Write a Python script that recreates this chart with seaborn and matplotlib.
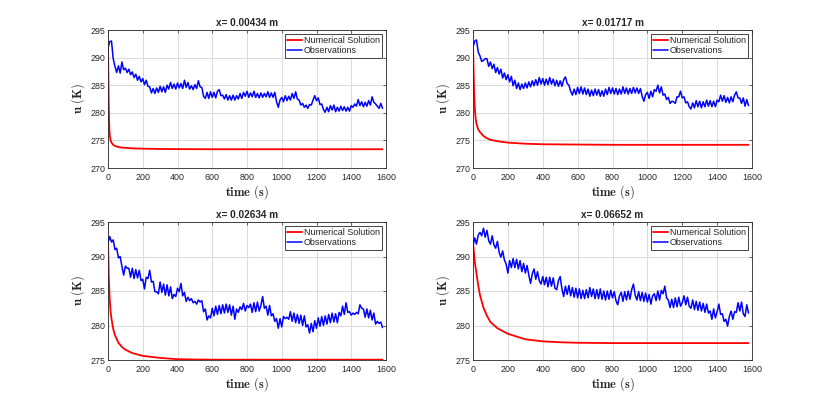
import numpy as np
import pandas as pd
import matplotlib
matplotlib.use("Agg")
import matplotlib.pyplot as plt
import seaborn as sns

# ---------------- data ----------------
titles = ["x= 0.00434 m", "x= 0.01717 m", "x= 0.02634 m", "x= 0.06652 m"]
ylims = [(270, 295), (270, 295), (275, 295), (275, 295)]

obs_time = list(range(0, 1590, 10))

obs_tl = [291.8, 292.9, 293.0, 289.8, 288.4, 287.3, 288.5, 287.2, 289.2, 287.8,
          288.1, 287.3, 287.9, 286.9, 287.4, 286.4, 287.0, 285.9, 286.6, 285.6,
          286.2, 285.1, 285.9, 284.8, 284.7, 283.6, 284.4, 283.5, 284.5, 283.7,
          284.8, 283.8, 284.7, 283.7, 285.0, 284.3, 285.5, 284.4, 285.2, 284.3,
          285.4, 284.5, 285.3, 284.4, 285.9, 284.6, 285.5, 284.3, 284.9, 284.2,
          285.1, 284.4, 285.8, 284.7, 284.6, 283.0, 282.6, 283.7, 282.6, 283.8,
          282.8, 283.7, 282.7, 283.9, 284.2, 283.1, 283.2, 282.5, 283.3, 282.3,
          283.1, 282.3, 283.2, 282.3, 283.1, 282.5, 283.5, 282.6, 283.7, 283.0,
          283.9, 282.8, 283.6, 282.9, 283.9, 282.8, 283.5, 282.7, 283.6, 282.8,
          283.5, 282.9, 283.8, 282.8, 283.6, 282.8, 283.7, 282.0, 281.0, 282.3,
          282.8, 282.0, 283.1, 282.2, 283.0, 282.3, 283.5, 282.6, 283.8, 282.5,
          282.3, 281.4, 281.7, 281.0, 281.4, 280.8, 281.5, 281.4, 282.3, 283.1,
          282.2, 282.7, 281.5, 281.6, 280.6, 280.1, 281.0, 280.2, 281.3, 280.5,
          281.4, 280.2, 281.0, 280.3, 281.2, 280.4, 281.1, 280.3, 281.0, 280.3,
          281.3, 281.0, 281.6, 281.2, 282.4, 281.3, 282.0, 281.1, 281.9, 281.2,
          282.2, 281.4, 282.9, 281.9, 281.6, 281.2, 280.8, 281.7, 280.8]

obs_tr = [291.9, 293.0, 293.2, 291.0, 290.3, 289.3, 289.5, 289.8, 289.8, 288.4,
          289.2, 288.0, 288.8, 287.3, 288.2, 287.0, 287.9, 286.3, 287.2, 286.0,
          286.9, 285.6, 286.6, 284.9, 285.9, 284.4, 285.4, 284.2, 285.2, 284.4,
          285.4, 284.5, 285.6, 284.7, 285.8, 284.9, 286.0, 285.0, 286.4, 285.2,
          286.2, 285.0, 286.1, 285.1, 286.4, 285.2, 286.1, 284.9, 285.9, 284.8,
          285.8, 284.8, 286.0, 286.5, 285.3, 285.0, 283.9, 283.2, 284.3, 283.3,
          284.6, 283.5, 284.7, 283.4, 284.5, 283.3, 284.3, 283.0, 284.1, 283.1,
          284.3, 283.2, 284.2, 283.0, 284.0, 283.0, 284.3, 283.3, 284.6, 283.5,
          284.5, 283.4, 284.4, 283.3, 284.3, 283.4, 284.7, 283.5, 284.5, 283.4,
          284.4, 283.5, 284.6, 283.6, 284.5, 283.5, 284.4, 283.0, 282.1, 283.3,
          283.7, 282.6, 283.9, 282.9, 284.2, 283.9, 285.0, 283.6, 284.7, 283.2,
          283.4, 282.4, 282.8, 281.7, 282.1, 282.0, 281.7, 282.9, 282.9, 283.9,
          282.7, 282.9, 281.8, 282.0, 281.1, 280.7, 281.8, 280.9, 282.2, 281.1,
          282.1, 280.9, 282.0, 281.1, 282.3, 281.2, 282.2, 281.1, 282.1, 281.1,
          282.3, 282.0, 283.2, 282.1, 283.1, 281.9, 282.8, 281.8, 282.9, 282.0,
          283.2, 283.8, 282.7, 282.7, 281.7, 282.7, 281.2, 282.4, 281.3]

obs_bl = [292.0, 292.9, 292.1, 292.4, 291.0, 291.2, 289.8, 290.0, 288.6, 287.3,
          288.6, 288.3, 288.3, 287.0, 288.3, 286.8, 288.1, 286.9, 288.0, 286.5,
          286.7, 285.3, 287.0, 286.8, 288.0, 286.3, 286.4, 284.9, 284.9, 284.6,
          286.3, 284.8, 286.0, 284.4, 285.9, 284.3, 285.6, 283.9, 284.5, 284.2,
          285.4, 284.9, 286.1, 284.3, 284.8, 283.5, 284.1, 283.6, 283.9, 283.3,
          283.5, 283.1, 283.7, 283.4, 283.6, 282.0, 282.4, 280.8, 281.4, 281.1,
          282.5, 281.4, 282.8, 281.6, 282.9, 281.7, 283.0, 281.8, 283.1, 281.9,
          283.0, 281.5, 282.8, 280.9, 282.4, 281.9, 282.7, 282.3, 283.2, 282.1,
          282.9, 282.6, 283.1, 281.9, 283.3, 282.0, 283.4, 282.1, 282.9, 284.2,
          282.5, 282.8, 281.5, 282.9, 281.4, 281.7, 280.6, 281.0, 279.6, 281.0,
          279.8, 281.3, 281.0, 281.2, 280.9, 282.0, 280.6, 281.8, 280.4, 281.6,
          280.3, 281.5, 280.0, 281.4, 279.8, 280.1, 278.9, 280.3, 279.1, 280.7,
          279.6, 281.1, 279.9, 281.3, 280.0, 281.4, 280.2, 281.6, 280.4, 281.8,
          280.5, 281.7, 280.4, 281.9, 281.4, 282.8, 281.6, 283.3, 281.9, 282.0,
          281.5, 281.8, 281.6, 281.9, 281.7, 283.0, 282.5, 282.4, 281.2, 282.4,
          281.1, 282.2, 280.8, 281.8, 280.2, 280.6, 280.3, 280.5, 279.7]

obs_br = [291.5, 292.7, 291.8, 293.1, 293.5, 293.0, 294.1, 292.8, 293.8, 292.3,
          291.8, 293.0, 291.7, 291.2, 292.2, 290.6, 289.9, 290.8, 289.5, 288.9,
          287.6, 289.4, 288.4, 289.7, 288.4, 289.6, 288.2, 289.4, 287.8, 289.0,
          287.6, 288.7, 287.3, 286.1, 287.5, 288.2, 286.7, 287.8, 286.5, 286.0,
          287.1, 285.9, 287.0, 285.6, 287.0, 285.7, 286.9, 285.4, 285.2, 286.5,
          287.1, 285.3, 284.2, 285.7, 284.5, 285.8, 284.3, 285.5, 284.1, 285.4,
          284.0, 285.3, 283.9, 285.1, 283.9, 285.2, 284.0, 285.5, 284.2, 285.3,
          283.9, 285.2, 283.9, 285.3, 283.8, 285.0, 283.7, 285.0, 283.8, 285.1,
          284.0, 284.9, 283.6, 283.0, 284.3, 284.8, 283.5, 284.9, 283.7, 285.0,
          283.8, 285.2, 286.0, 284.4, 283.7, 284.9, 283.6, 284.8, 283.5, 284.7,
          283.4, 284.5, 283.1, 284.3, 284.6, 283.6, 285.0, 283.7, 285.1, 284.6,
          285.7, 284.0, 283.7, 282.6, 283.8, 282.6, 284.0, 282.7, 284.1, 282.8,
          283.3, 284.3, 283.0, 284.1, 282.8, 282.5, 283.7, 282.3, 283.5, 282.2,
          283.4, 282.1, 283.2, 281.9, 283.1, 281.8, 282.1, 280.9, 282.4, 281.1,
          282.0, 283.1, 281.6, 281.7, 280.6, 280.9, 279.9, 281.3, 282.1, 280.9,
          282.0, 281.9, 283.3, 282.1, 283.4, 281.7, 281.3, 283.0, 281.8]

num_time_tl = [0, 2, 4, 6, 8, 10, 15, 20, 30, 40, 60, 80, 100, 150, 200, 300, 400, 600, 800, 1000, 1200, 1400, 1580]
num_tl = [292.5, 287.0, 282.0, 279.0, 277.0, 276.0, 275.0, 274.6, 274.2, 274.0, 273.8, 273.7,
          273.65, 273.55, 273.5, 273.45, 273.42, 273.4, 273.4, 273.4, 273.4, 273.4, 273.4]

num_time_tr = [0, 3, 6, 10, 15, 20, 30, 40, 60, 80, 100, 150, 200, 300, 400, 600, 800, 1000, 1200, 1400, 1580]
num_tr = [292.5, 288.0, 284.0, 281.0, 279.0, 278.0, 277.0, 276.5, 275.8, 275.4, 275.1, 274.8,
          274.6, 274.4, 274.3, 274.25, 274.2, 274.2, 274.2, 274.2, 274.2]

num_time_bl = [0, 2, 4, 7, 10, 15, 20, 30, 40, 60, 80, 100, 140, 200, 300, 400, 500, 600, 800, 1000, 1200, 1400, 1580]
num_bl = [292.5, 290.0, 287.5, 285.5, 283.8, 282.0, 281.0, 279.5, 278.6, 277.5, 276.9, 276.5,
          276.0, 275.6, 275.3, 275.12, 275.07, 275.05, 275.05, 275.05, 275.05, 275.05, 275.05]

num_time_br = [0, 10, 20, 30, 40, 60, 80, 100, 140, 200, 300, 400, 500, 600, 800, 1000, 1200, 1400, 1580]
num_br = [292.0, 289.3, 287.5, 285.8, 284.4, 282.6, 281.4, 280.5, 279.6, 278.8, 278.0, 277.7,
          277.57, 277.5, 277.45, 277.45, 277.45, 277.45, 277.45]

obs_all = [obs_tl, obs_tr, obs_bl, obs_br]
num_times = [num_time_tl, num_time_tr, num_time_bl, num_time_br]
num_all = [num_tl, num_tr, num_bl, num_br]

xticks = list(range(0, 1601, 200))

# ---------------- style ----------------
sns.set_theme(style="white")
plt.rcParams["font.family"] = ["Liberation Sans", "DejaVu Sans"]
plt.rcParams["mathtext.fontset"] = "cm"
plt.rcParams["axes.linewidth"] = 0.6

fig = plt.figure(figsize=(8.3, 4.05), dpi=100)
W, H = 830.0, 405.0
boxes = [(108, 30, 278, 138), (473, 30, 279, 138), (108, 222, 278, 138), (473, 222, 279, 138)]

for i in range(4):
    l, t, w, h = boxes[i]
    ax = fig.add_axes([l / W, 1 - (t + h) / H, w / W, h / H])
    sns.lineplot(x=num_times[i], y=num_all[i], ax=ax, color="#ff0000", lw=1.3,
                 label="Numerical Solution", estimator=None, sort=False)
    sns.lineplot(x=obs_time, y=obs_all[i], ax=ax, color="#0000ff", lw=1.1,
                 label="Observations", estimator=None, sort=False)
    ax.set_xlim(0, 1600)
    ax.set_ylim(*ylims[i])
    ax.set_xticks(xticks)
    ax.set_yticks(list(range(ylims[i][0], ylims[i][1] + 1, 5)))
    ax.grid(True, color="#dcdcdc", lw=0.8)
    ax.set_axisbelow(True)
    ax.tick_params(direction="in", length=2.5, width=0.5, labelsize=6.4,
                   top=True, right=True, colors="#262626")
    ax.tick_params(axis="x", pad=3.5)
    ax.tick_params(axis="y", pad=2.0)
    for sp in ax.spines.values():
        sp.set_visible(True)
        sp.set_color("#262626")
        sp.set_linewidth(0.6)
    ax.set_title(titles[i], fontsize=7.2, fontweight="bold", pad=3)
    ax.set_xlabel(r"$\mathbf{time\ (s)}$", fontsize=9, labelpad=1)
    ax.set_ylabel(r"$\mathbf{u\ (K)}$", fontsize=9, labelpad=2)
    leg = ax.legend(loc="upper right", fontsize=6.5, frameon=True, fancybox=False,
                    framealpha=1, edgecolor="#262626", handlelength=1.7,
                    handletextpad=0.15, labelspacing=0.12, borderpad=0.25,
                    borderaxespad=0.45)
    leg.get_frame().set_linewidth(0.6)

fig.savefig("out.png", dpi=100)
